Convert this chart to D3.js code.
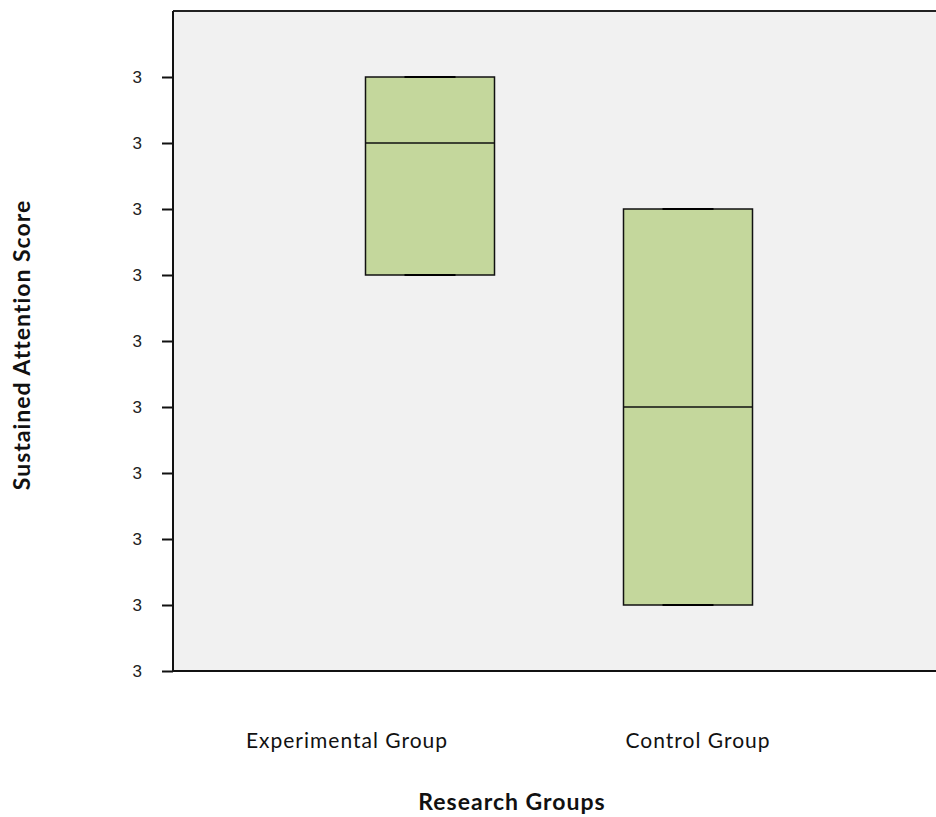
<!DOCTYPE html>
<html>
<head>
<meta charset="utf-8">
<script src="https://cdn.jsdelivr.net/npm/d3@7/dist/d3.min.js"></script>
<style>
  html, body { margin: 0; padding: 0; background: #ffffff; }
  svg { display: block; }
</style>
</head>
<body>
<svg id="chart" width="936" height="817"></svg>
<script>
// Groups and their box summaries
const groups = ["Experimental Group", "Control Group"];
const q1Values = [2.90, 2.65];
const medianValues = [3.00, 2.80];
const q3Values = [3.05, 2.95];
const whiskerLow = [2.90, 2.65];
const whiskerHigh = [3.05, 2.95];
const yTickValues = [2.60, 2.65, 2.70, 2.75, 2.80, 2.85, 2.90, 2.95, 3.00, 3.05];

const svg = d3.select("#chart");
const plot = { left: 173, top: 11, right: 940, bottom: 671 };

const y = d3.scaleLinear().domain([2.60, 3.10]).range([plot.bottom, plot.top]);
const x = d3.scalePoint().domain(groups).range([430, 688]);
const xLabel = d3.scalePoint().domain(groups).range([347, 698]);
const boxW = 129, capW = 51;
const labelFont = "Lato, 'Open Sans', sans-serif";

// plot background
svg.append("rect")
  .attr("x", plot.left).attr("y", plot.top)
  .attr("width", plot.right - plot.left).attr("height", plot.bottom - plot.top)
  .attr("fill", "#f1f1f1");

// top frame line
svg.append("line")
  .attr("x1", plot.left).attr("x2", plot.right)
  .attr("y1", plot.top).attr("y2", plot.top)
  .attr("stroke", "#222").attr("stroke-width", 2);

// boxes
const data = groups.map((g, i) => ({
  g, q1: q1Values[i], med: medianValues[i], q3: q3Values[i],
  lo: whiskerLow[i], hi: whiskerHigh[i]
}));
const box = svg.append("g").selectAll("g").data(data).join("g");
box.append("line")
  .attr("x1", d => x(d.g)).attr("x2", d => x(d.g))
  .attr("y1", d => y(d.hi)).attr("y2", d => y(d.lo))
  .attr("stroke", "#000").attr("stroke-width", 1.5);
box.append("rect")
  .attr("x", d => x(d.g) - boxW / 2).attr("width", boxW)
  .attr("y", d => y(d.q3)).attr("height", d => y(d.q1) - y(d.q3))
  .attr("fill", "#c4d79c").attr("stroke", "#111").attr("stroke-width", 1.5);
box.append("line")
  .attr("x1", d => x(d.g) - boxW / 2).attr("x2", d => x(d.g) + boxW / 2)
  .attr("y1", d => y(d.med)).attr("y2", d => y(d.med))
  .attr("stroke", "#111").attr("stroke-width", 1.5);
["hi", "lo"].forEach(k => {
  box.append("line")
    .attr("x1", d => x(d.g) - capW / 2).attr("x2", d => x(d.g) + capW / 2)
    .attr("y1", d => y(d[k])).attr("y2", d => y(d[k]))
    .attr("stroke", "#000").attr("stroke-width", 2);
});

// y axis
const yAxis = d3.axisLeft(y).tickValues(yTickValues).tickFormat(d3.format(".0f"))
  .tickSize(11).tickPadding(20);
const ya = svg.append("g").attr("transform", `translate(${plot.left},0)`).call(yAxis);
ya.select(".domain").remove();
ya.selectAll(".tick line").attr("stroke", "#111").attr("stroke-width", 2);
ya.selectAll(".tick text")
  .style("font-family", "Arial, 'Liberation Sans', sans-serif")
  .style("font-size", "17px").attr("fill", "#222");
svg.append("line")
  .attr("x1", plot.left).attr("x2", plot.left)
  .attr("y1", plot.top).attr("y2", plot.bottom)
  .attr("stroke", "#111").attr("stroke-width", 2);

// x axis baseline
svg.append("line")
  .attr("x1", plot.left - 1).attr("x2", plot.right)
  .attr("y1", plot.bottom).attr("y2", plot.bottom)
  .attr("stroke", "#111").attr("stroke-width", 2);

// category labels
svg.append("g").selectAll("text").data(groups).join("text")
  .attr("x", d => xLabel(d)).attr("y", 748)
  .attr("text-anchor", "middle")
  .style("font-family", labelFont).style("font-size", "21px")
  .style("letter-spacing", "1px")
  .attr("fill", "#111")
  .text(d => d);

// axis titles
svg.append("text")
  .attr("x", 512).attr("y", 810)
  .attr("text-anchor", "middle")
  .style("font-family", labelFont).style("font-weight", "bold")
  .style("font-size", "23px").style("letter-spacing", "1px")
  .attr("fill", "#111")
  .text("Research Groups");
svg.append("text")
  .attr("transform", "translate(30,345) rotate(-90)")
  .attr("text-anchor", "middle")
  .style("font-family", labelFont).style("font-weight", "bold")
  .style("font-size", "23px").style("letter-spacing", "1px")
  .attr("fill", "#111")
  .text("Sustained Attention Score");
</script>
</body>
</html>
